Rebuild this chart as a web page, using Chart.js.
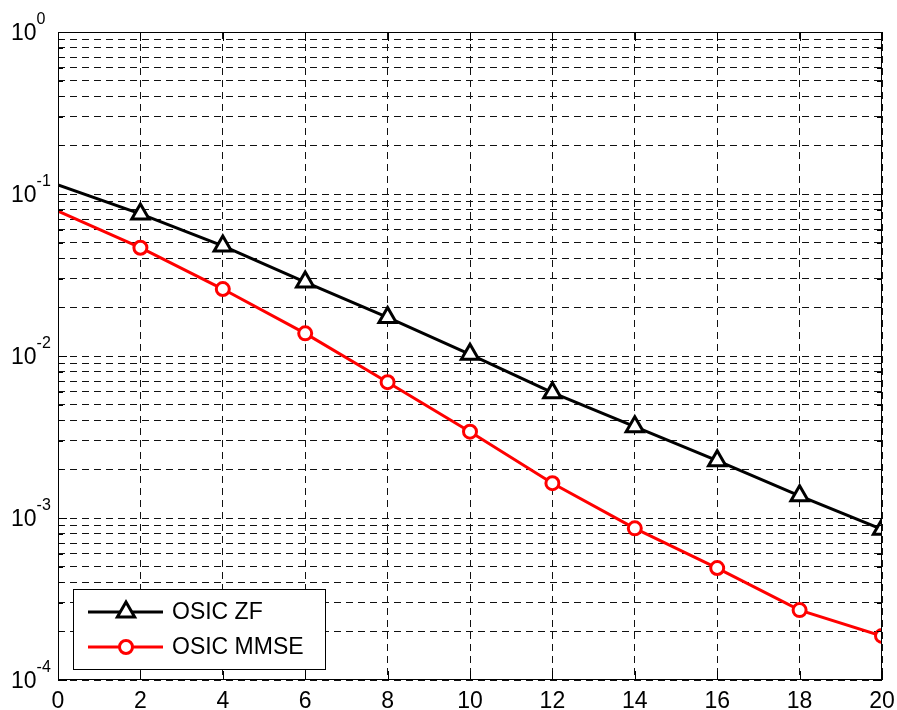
<!DOCTYPE html>
<html>
<head>
<meta charset="utf-8">
<script src="https://cdn.jsdelivr.net/npm/chart.js@4"></script>
<style>
  html, body { margin: 0; padding: 0; background: #fff; }
  canvas { display: block; }
</style>
</head>
<body>
<canvas id="berChart" width="897" height="710"></canvas>
<script>
// SNR (dB) and bit error rates for the two detectors
const snr = [0, 2, 4, 6, 8, 10, 12, 14, 16, 18, 20];
const berZF = [0.1137, 0.0753, 0.0478, 0.0286, 0.0173, 0.01024, 0.00594, 0.00366, 0.00226, 0.00137, 0.000851];
const berMMSE = [0.0785, 0.0466, 0.0259, 0.0138, 0.00689, 0.00341, 0.00164, 0.000863, 0.000491, 0.000270, 0.000187];
const seriesNames = ['OSIC ZF', 'OSIC MMSE'];

const xTicks = [0, 2, 4, 6, 8, 10, 12, 14, 16, 18, 20];
const yDecades = [-4, -3, -2, -1, 0];

const FONT = '"Liberation Sans", Arial, Helvetica, sans-serif';

// no marker on the 0 dB point, markers on the rest
const markerSizes = (r) => snr.map(v => v === 0 ? 0 : r);

const toPoints = (ys) => snr.map((x, i) => ({ x: x, y: ys[i] }));

// axes box, inward ticks, tick labels with exponents, legend
const axesBox = {
  id: 'axesBox',
  afterDatasetsDraw(chart) {
    const { ctx, chartArea: a, scales: { x, y } } = chart;
    ctx.save();
    ctx.strokeStyle = '#000';
    ctx.lineWidth = 1;
    ctx.strokeRect(a.left + 0.5, a.top + 0.5, a.width - 1, a.height - 1);

    ctx.beginPath();
    xTicks.forEach(v => {
      const px = Math.round(x.getPixelForValue(v)) + 0.5;
      ctx.moveTo(px, a.bottom); ctx.lineTo(px, a.bottom - 9);
      ctx.moveTo(px, a.top); ctx.lineTo(px, a.top + 9);
    });
    y.ticks.forEach(t => {
      const py = Math.round(y.getPixelForValue(t.value)) + 0.5;
      const len = t.major ? 9 : 5;
      ctx.moveTo(a.left, py); ctx.lineTo(a.left + len, py);
      ctx.moveTo(a.right, py); ctx.lineTo(a.right - len, py);
    });
    ctx.stroke();

    ctx.fillStyle = '#000';
    ctx.font = '23px ' + FONT;
    ctx.textAlign = 'center';
    ctx.textBaseline = 'alphabetic';
    xTicks.forEach(v => ctx.fillText(String(v), x.getPixelForValue(v), a.bottom + 28));

    ctx.textAlign = 'left';
    yDecades.forEach(e => {
      const py = y.getPixelForValue(Math.pow(10, e));
      ctx.font = '23px ' + FONT;
      ctx.fillText('10', 11, py + 8);
      const w = ctx.measureText('10').width;
      ctx.font = '16px ' + FONT;
      ctx.fillText(String(e), 11 + w, py - 8);
    });

    // legend
    const lx = a.left + 15, ly = a.bottom - 91;
    ctx.fillStyle = '#fff';
    ctx.fillRect(lx, ly, 252, 80);
    ctx.strokeRect(lx + 0.5, ly + 0.5, 252, 80);
    chart.data.datasets.forEach((ds, i) => {
      const ry = ly + 23 + i * 35;
      ctx.strokeStyle = ds.borderColor;
      ctx.lineWidth = ds.borderWidth;
      ctx.beginPath();
      ctx.moveTo(lx + 15, ry); ctx.lineTo(lx + 90, ry);
      ctx.stroke();
      ctx.fillStyle = '#fff';
      Chart.helpers.drawPoint(ctx, {
        pointStyle: ds.pointStyle,
        radius: ds.pointRadius[1],
        rotation: 0,
        borderWidth: ds.pointBorderWidth
      }, lx + 53, ry);
      ctx.fillStyle = '#000';
      ctx.font = '23px ' + FONT;
      ctx.textBaseline = 'middle';
      ctx.fillText(ds.label, lx + 99, ry + 1);
    });
    ctx.restore();
  }
};

const gridStyle = { color: '#111', drawTicks: false, lineWidth: 1 };

new Chart(document.getElementById('berChart'), {
  type: 'line',
  data: {
    datasets: [{
      label: seriesNames[0],
      data: toPoints(berZF),
      borderColor: '#000',
      borderWidth: 3,
      pointStyle: 'triangle',
      pointRadius: markerSizes(10),
      pointBorderWidth: 3,
      pointBorderColor: '#000',
      pointBackgroundColor: '#fff',
      clip: 0
    }, {
      label: seriesNames[1],
      data: toPoints(berMMSE),
      borderColor: '#ff0000',
      borderWidth: 3,
      pointStyle: 'circle',
      pointRadius: markerSizes(6.5),
      pointBorderWidth: 3,
      pointBorderColor: '#ff0000',
      pointBackgroundColor: '#fff',
      clip: 0
    }]
  },
  options: {
    responsive: false,
    devicePixelRatio: 1,
    animation: false,
    layout: { padding: { left: 58, top: 32, right: 15, bottom: 30 } },
    plugins: { legend: { display: false }, tooltip: { enabled: false } },
    scales: {
      x: {
        type: 'linear',
        min: 0,
        max: 20,
        afterBuildTicks(scale) { scale.ticks = xTicks.map(v => ({ value: v })); },
        ticks: { display: false },
        grid: gridStyle,
        border: { display: false, dash: [7, 5] }
      },
      y: {
        type: 'logarithmic',
        min: 1e-4,
        max: 1,
        afterBuildTicks(scale) {
          const ticks = [];
          yDecades.forEach(e => {
            for (let m = 1; m < 10; m++) {
              if (e === 0 && m > 1) break;
              ticks.push({ value: m * Math.pow(10, e), major: m === 1 });
            }
          });
          scale.ticks = ticks;
        },
        ticks: { display: false },
        grid: gridStyle,
        border: { display: false, dash: [7, 5] }
      }
    }
  },
  plugins: [axesBox]
});
</script>
</body>
</html>
